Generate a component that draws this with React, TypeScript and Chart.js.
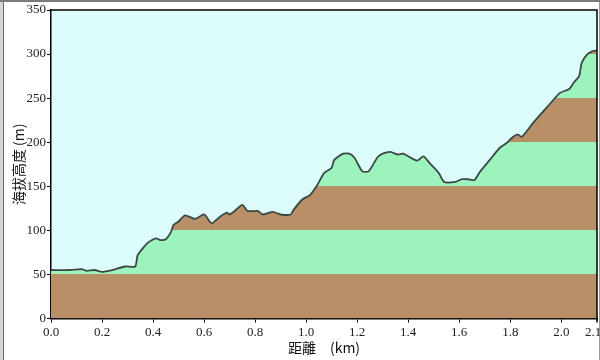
import { useEffect, useRef } from "react";
import { Chart, registerables } from "chart.js";

Chart.register(...registerables);

// distance along the route (km)
const distKm = [
  0.0, 0.075, 0.12, 0.14, 0.17, 0.2, 0.24, 0.29, 0.33, 0.34, 0.38, 0.41, 0.43, 0.45, 0.47, 0.48, 0.5,
  0.525, 0.565, 0.6, 0.63, 0.66, 0.69, 0.7, 0.72, 0.75, 0.77, 0.81, 0.83, 0.87, 0.9, 0.94, 0.95,
  0.985, 1.015, 1.045, 1.07, 1.1, 1.11, 1.145, 1.17, 1.19, 1.22, 1.245, 1.28, 1.3, 1.33, 1.36,
  1.38, 1.435, 1.46, 1.485, 1.52, 1.54, 1.585, 1.61, 1.635, 1.66, 1.68, 1.72, 1.76, 1.79, 1.81,
  1.83, 1.845, 1.89, 1.945, 1.995, 2.03, 2.05, 2.07, 2.08, 2.1, 2.12, 2.14,
];
// elevation (m)
const elevM = [
  55, 55, 56, 54, 55, 53, 55, 59, 59, 72, 86, 91, 89, 90, 98, 106, 110,
  117, 113, 118, 108, 115, 120, 118, 122, 129, 122, 122, 118, 121, 118, 118, 123,
  135, 140, 152, 165, 171, 180, 187, 187, 182, 167, 167, 183, 187, 189, 186,
  187, 179, 184, 176, 165, 155, 155, 158, 158, 157, 166, 180, 194, 200, 206,
  209, 206, 222, 240, 256, 260, 268, 275, 290, 299, 303, 304,
];

const xTickValues = [0, 0.2, 0.4, 0.6, 0.8, 1.0, 1.2, 1.4, 1.6, 1.8, 2.0];
const xMax = 2.14;
const xEndLabelAt = 2.125; // "2.1" label shown near the end of the axis
const yMax = 350;
const yStep = 50;

const xTitle = "距離　(km)";
const yTitle = "海拔高度 (m)";

const bandColors = ["#b88f66", "#9df3bd"];
const skyColor = "#dcfcfc";
const lineColor = "#3a4843";

const tickFont = { family: "'Liberation Serif', 'DejaVu Serif', serif", size: 13 };
const titleFont = { family: "'Noto Sans CJK TC', 'Noto Sans', sans-serif", size: 14, lineHeight: 1.2 };

const framePlugin = {
  id: "frame",
  beforeDraw(chart: any) {
    const { ctx, chartArea, width, height } = chart;
    ctx.save();
    ctx.fillStyle = "#ffffff";
    ctx.fillRect(0, 0, width, height);
    ctx.fillStyle = "#d6d6d6";
    ctx.fillRect(0, 0, 3, height);
    ctx.fillStyle = "#7a7a7a";
    ctx.fillRect(0, 0, width, 2);
    ctx.fillStyle = "#6a6a6a";
    ctx.fillRect(3, 2, 1, height - 2);
    ctx.fillStyle = "#9a9a9a";
    ctx.fillRect(width - 1, 2, 1, height - 2);
    ctx.fillStyle = skyColor;
    ctx.fillRect(chartArea.left, chartArea.top, chartArea.right - chartArea.left, chartArea.bottom - chartArea.top);
    ctx.restore();
  },
  afterDraw(chart: any) {
    const { ctx, chartArea } = chart;
    ctx.save();
    ctx.strokeStyle = "#000";
    ctx.lineWidth = 1.5;
    ctx.beginPath();
    ctx.moveTo(chartArea.left, chartArea.top);
    ctx.lineTo(chartArea.right, chartArea.top);
    ctx.lineTo(chartArea.right, chartArea.bottom + 4);
    ctx.stroke();
    ctx.restore();
  },
};

export default function App() {
  const ref = useRef<HTMLCanvasElement | null>(null);

  useEffect(() => {
    document.body.style.margin = "0";
    const canvas = ref.current;
    if (!canvas) return;
    const chart = new Chart(canvas, {
      type: "line",
      data: {
        datasets: [
          {
            data: distKm.map((d, i) => ({ x: d, y: elevM[i] })),
            borderColor: lineColor,
            borderWidth: 1.8,
            pointRadius: 0,
            tension: 0.2,
            fill: "origin",
            backgroundColor: (ctx: any) => {
              const c = ctx.chart;
              const { chartArea, scales } = c;
              if (!chartArea || !scales.y) return bandColors[0];
              const p0 = scales.y.getPixelForValue(0);
              const p1 = scales.y.getPixelForValue(yMax);
              const g = c.ctx.createLinearGradient(0, p0, 0, p1);
              const n = yMax / yStep;
              for (let i = 0; i < n; i++) {
                const col = bandColors[i % 2];
                g.addColorStop(i / n, col);
                g.addColorStop((i + 1) / n, col);
              }
              return g;
            },
          },
        ],
      },
      options: {
        animation: false,
        responsive: false,
        maintainAspectRatio: false,
        layout: { padding: { left: 0, top: 10, right: 3, bottom: 0 } },
        plugins: { legend: { display: false }, tooltip: { enabled: false } },
        scales: {
          x: {
            type: "linear",
            min: 0,
            max: xMax,
            afterBuildTicks: (s: any) => {
              s.ticks = [...xTickValues, xEndLabelAt].map((v) => ({ value: v }));
            },
            afterFit: (s: any) => {
              s.height = 41.5;
              s.paddingLeft = 0;
              s.paddingRight = 0;
            },
            ticks: {
              autoSkip: false,
              maxRotation: 0,
              padding: 2,
              color: "#222",
              font: tickFont,
              callback: (v: any) => Number(v).toFixed(1),
            },
            grid: {
              display: true,
              drawOnChartArea: false,
              drawTicks: true,
              tickLength: 4,
              color: (ctx: any) => (ctx.tick && ctx.tick.value === xEndLabelAt ? "rgba(0,0,0,0)" : "#000"),
            },
            border: { display: true, color: "#000", width: 1.5 },
            title: {
              display: true,
              text: xTitle,
              color: "#111",
              font: titleFont,
              padding: { top: 0, bottom: 4 },
            },
          },
          y: {
            type: "linear",
            min: 0,
            max: yMax,
            afterFit: (s: any) => {
              s.width = 51;
            },
            ticks: { stepSize: yStep, padding: 1, color: "#222", font: tickFont },
            grid: { display: true, drawOnChartArea: false, drawTicks: true, tickLength: 4, color: "#000" },
            border: { display: true, color: "#000", width: 1.5 },
            title: {
              display: true,
              text: yTitle,
              color: "#111",
              font: titleFont,
              padding: { top: 10, bottom: 0 },
            },
          },
        },
      },
      plugins: [framePlugin],
    } as any);
    return () => chart.destroy();
  }, []);

  return <canvas ref={ref} width={600} height={360} style={{ display: "block" }} />;
}
